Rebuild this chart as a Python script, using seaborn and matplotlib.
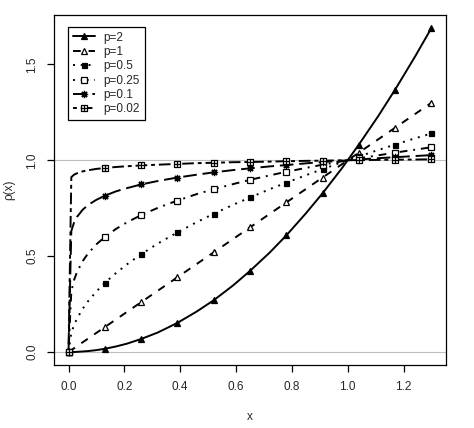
import numpy as np
import pandas as pd
import matplotlib
matplotlib.use("Agg")
import matplotlib.pyplot as plt
from matplotlib.path import Path
from matplotlib.lines import Line2D
import seaborn as sns

# ---------------- data ----------------
x_line = [0, 0.01, 0.02, 0.03, 0.05, 0.07, 0.10, 0.13, 0.17, 0.21, 0.26, 0.32, 0.39,
          0.46, 0.52, 0.59, 0.65, 0.72, 0.78, 0.85, 0.91, 0.98, 1.04, 1.11, 1.17, 1.24, 1.30]

y_p2 = [0, 0.000, 0.000, 0.001, 0.003, 0.005, 0.010, 0.017, 0.029, 0.044, 0.068, 0.102, 0.152,
        0.212, 0.270, 0.348, 0.423, 0.518, 0.608, 0.723, 0.828, 0.960, 1.082, 1.232, 1.369, 1.538, 1.690]
y_p1 = [0, 0.01, 0.02, 0.03, 0.05, 0.07, 0.10, 0.13, 0.17, 0.21, 0.26, 0.32, 0.39,
        0.46, 0.52, 0.59, 0.65, 0.72, 0.78, 0.85, 0.91, 0.98, 1.04, 1.11, 1.17, 1.24, 1.30]
y_p05 = [0, 0.100, 0.141, 0.173, 0.224, 0.265, 0.316, 0.361, 0.412, 0.458, 0.510, 0.566, 0.624,
         0.678, 0.721, 0.768, 0.806, 0.849, 0.883, 0.922, 0.954, 0.990, 1.020, 1.054, 1.082, 1.114, 1.140]
y_p025 = [0, 0.316, 0.376, 0.416, 0.473, 0.514, 0.562, 0.600, 0.642, 0.677, 0.714, 0.752, 0.790,
          0.824, 0.849, 0.876, 0.898, 0.921, 0.940, 0.960, 0.977, 0.995, 1.010, 1.026, 1.040, 1.055, 1.068]
y_p01 = [0, 0.631, 0.676, 0.704, 0.741, 0.767, 0.794, 0.815, 0.838, 0.855, 0.874, 0.892, 0.910,
         0.925, 0.937, 0.949, 0.958, 0.968, 0.975, 0.984, 0.991, 0.998, 1.004, 1.011, 1.016, 1.022, 1.027]
y_p002 = [0, 0.912, 0.925, 0.932, 0.942, 0.948, 0.955, 0.960, 0.965, 0.969, 0.973, 0.977, 0.981,
          0.985, 0.987, 0.990, 0.991, 0.993, 0.995, 0.997, 0.998, 1.000, 1.001, 1.002, 1.003, 1.004, 1.005]

x_marks = [0, 0.13, 0.26, 0.39, 0.52, 0.65, 0.78, 0.91, 1.04, 1.17, 1.30]

labels = ["p=2", "p=1", "p=0.5", "p=0.25", "p=0.1", "p=0.02"]
series = [y_p2, y_p1, y_p05, y_p025, y_p01, y_p002]
x_ticks = [0.0, 0.2, 0.4, 0.6, 0.8, 1.0, 1.2]
y_ticks = [0.0, 0.5, 1.0, 1.5]

# ---------------- styles ----------------
sq_plus = Path(
    [(-1, -1), (1, -1), (1, 1), (-1, 1), (-1, -1), (0, -1), (0, 1), (-1, 0), (1, 0)],
    [Path.MOVETO, Path.LINETO, Path.LINETO, Path.LINETO, Path.CLOSEPOLY,
     Path.MOVETO, Path.LINETO, Path.MOVETO, Path.LINETO])

dashes = ["-", (0, (4, 4)), (0, (1, 3)), (0, (1, 3, 4, 3)), (0, (7, 3)), (0, (2, 2, 6, 2))]
markers = ["^", "^", "s", "s", (8, 2, 0), sq_plus]
mfaces = ["black", "white", "black", "white", "black", "white"]
msizes = [4.8, 4.8, 3.6, 4.2, 5.2, 4.4]

sns.set_style("ticks")
plt.rcParams["font.family"] = ["Liberation Sans", "DejaVu Sans"]
plt.rcParams["axes.linewidth"] = 0.9
plt.rcParams["xtick.major.width"] = 0.9
plt.rcParams["ytick.major.width"] = 0.9

fig = plt.figure(figsize=(4.74, 4.28), dpi=100)
ax = fig.add_axes([54 / 474, 1 - 365 / 428, 392 / 474, 350 / 428])

ax.axhline(0, color="#bebebe", lw=0.8, zorder=0)
ax.axhline(1, color="#bebebe", lw=0.8, zorder=0)

df = pd.DataFrame({"x": np.tile(x_line, len(series)),
                   "y": np.concatenate(series),
                   "p": np.repeat(labels, len(x_line))})

handles = []
for i, lab in enumerate(labels):
    sub = df[df["p"] == lab]
    sns.lineplot(data=sub, x="x", y="y", ax=ax, color="black", lw=1.4,
                 linestyle=dashes[i], sort=False, estimator=None, legend=False)
    mk = sub[sub["x"].round(3).isin(np.round(x_marks, 3))]
    ax.plot(mk["x"], mk["y"], linestyle="none", marker=markers[i], ms=msizes[i],
            mfc=mfaces[i], mec="black", mew=0.9, color="black", zorder=3)
    handles.append(Line2D([], [], color="black", lw=1.4, linestyle=dashes[i],
                          marker=markers[i], ms=msizes[i], mfc=mfaces[i],
                          mec="black", mew=0.9))

ax.set_xlim(-0.052, 1.352)
ax.set_ylim(-0.0676, 1.7576)
ax.set_xticks(x_ticks)
ax.set_xticklabels([f"{v:.1f}" for v in x_ticks])
ax.set_yticks(y_ticks)
ax.set_yticklabels([f"{v:.1f}" for v in y_ticks], rotation=90, va="center")
ax.tick_params(axis="both", direction="out", length=5, labelsize=8.5, pad=6.5, color="black")
ax.set_xlabel("x", fontsize=8.5, labelpad=13)
ax.set_ylabel("ρ(x)", fontsize=8.5, labelpad=8)
for s in ax.spines.values():
    s.set_visible(True)
    s.set_color("black")

leg = ax.legend(handles, labels, loc="upper left", bbox_to_anchor=(0.036, 0.966),
                borderaxespad=0, fontsize=8.5, frameon=True, fancybox=False,
                edgecolor="black", framealpha=1, handlelength=1.9, handletextpad=0.7,
                labelspacing=0.2, borderpad=0.4)
leg.get_frame().set_linewidth(0.9)

fig.savefig("out.png", dpi=100)
